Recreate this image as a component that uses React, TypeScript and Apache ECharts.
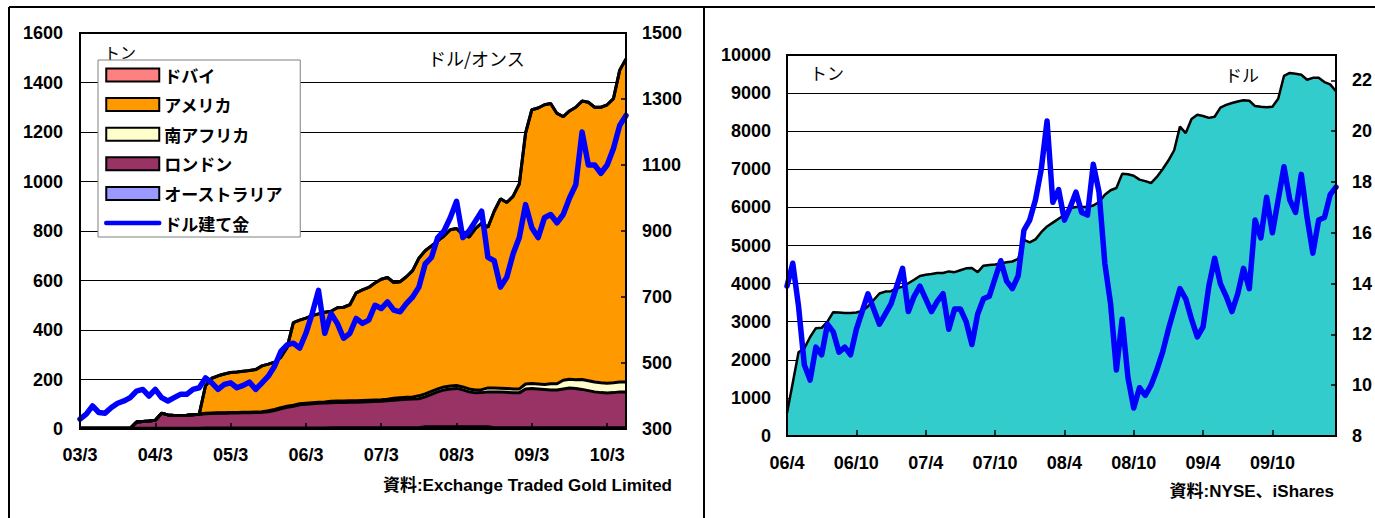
import React, { useEffect, useRef } from "react";
import * as echarts from "echarts";

// ---------- Left chart: gold ETF holdings (t) by exchange, monthly 2003/3 - 2010/6 ----------
const goldMonths: string[] = (() => {
  const out: string[] = [];
  let y = 2003, m = 3;
  for (let i = 0; i < 88; i++) {
    out.push(`${String(y % 100).padStart(2, "0")}/${m}`);
    m++;
    if (m > 12) { m = 1; y++; }
  }
  return out;
})();

const australia = [
  3, 3, 3, 3, 3, 3, 3, 3, 3, 3, 3, 3, 3, 3, 3, 3, 3, 3, 3, 3,
  4, 4, 4, 4, 4, 4, 4, 4, 4, 4, 4, 4, 4, 4, 4, 4, 4, 4, 4, 4,
  5, 5, 5, 5, 5, 5, 5, 5, 5, 5, 5, 5, 5, 5, 5,
  9, 9, 9, 9, 9, 9, 9, 9, 9, 9, 9,
  5, 5, 5, 5, 5, 5, 5, 5, 5, 5, 5, 5, 5, 5, 5, 5, 5, 5, 5, 5, 5, 5,
];
const london = [
  0, 0, 0, 0, 0, 0, 0, 0, 0,
  25, 27, 29, 32, 61, 54, 52, 52, 53, 55, 57,
  58, 59, 60, 60, 61, 61, 62, 62, 63, 64,
  66, 71, 78, 84, 88, 94, 96, 98, 100, 101,
  101, 102, 102, 103, 103, 104, 105, 106, 107, 109,
  111, 113, 115, 116, 117, 121, 131, 141, 149, 153,
  155, 149, 141, 137, 138, 141, 145, 144, 143, 141,
  141, 157, 159, 157, 155, 153, 153, 157, 161, 159,
  155, 150, 145, 142, 140, 142, 145, 145,
];
const southAfrica = [
  0, 0, 0, 0, 0, 0, 0, 0, 0, 0, 0, 0, 0, 0, 0, 0, 0, 0, 0, 0,
  2, 2, 2, 2, 2, 2, 2, 2, 2, 2,
  4, 4, 4, 4, 4, 4, 4, 4, 4, 4,
  6, 6, 6, 6, 6, 6, 6, 6, 6, 6,
  8, 8, 8, 8,
  12, 12, 12, 12, 12, 12, 12, 12, 12, 12, 12,
  16, 16, 16, 16, 16, 16,
  20, 20, 20, 20,
  25, 25,
  35, 35, 35,
  40, 40, 40, 40, 40, 40, 40, 40,
];
const america = [
  0, 0, 0, 0, 0, 0, 0, 0, 0, 0, 0, 0, 0, 0, 0, 0, 0, 0, 0, 0,
  111, 140, 149, 156, 161, 163, 165, 168, 171, 185,
  188, 191, 204, 238, 334, 338, 344, 352, 357, 363,
  364, 377, 379, 388, 436, 447, 456, 473, 487, 492,
  468, 469, 487, 511, 556, 578, 588, 598, 610, 631,
  634, 615, 613, 652, 673, 649, 714, 765, 751, 778,
  828, 1014, 1106, 1115, 1130, 1132, 1092, 1065, 1084, 1101,
  1125, 1125, 1110, 1113, 1125, 1148, 1260, 1305,
];
const dubai = [
  0, 0, 0, 0, 0, 0, 0, 0, 0, 0, 0, 0, 0, 0, 0, 0, 0, 0, 0, 0,
  0, 0, 0, 0, 0, 0, 0, 0, 0, 0, 0, 0, 0, 0, 0, 0, 0, 0, 0, 0,
  0, 0, 0, 0, 0, 0, 0, 0, 0, 0, 0, 0, 0, 0, 0, 0, 0, 0, 0, 0,
  0, 0, 0, 0, 0, 0, 0, 0, 0, 0, 0, 0, 0, 0, 0, 0, 0, 0, 0, 0,
  0, 0, 0, 0, 0, 0, 0, 0,
];
const goldPrice = [
  330, 345, 370, 350, 348, 365, 378, 385, 395, 415,
  420, 400, 420, 395, 385, 395, 405, 405, 420, 425,
  455, 440, 420, 435, 440, 425, 432, 442, 420, 440,
  460, 490, 535, 555, 560, 545, 590, 650, 720, 590,
  650, 620, 575, 590, 635, 620, 630, 675, 665, 685,
  660, 655, 680, 700, 730, 800, 820, 880, 900, 940,
  990, 880, 900, 930, 960, 820, 810, 730, 760, 830,
  880, 980, 910, 880, 940, 950, 925, 950, 1000, 1040,
  1200, 1100, 1100, 1075, 1100, 1150, 1220, 1250,
];

// ---------- Right chart: silver ETF (SLV) holdings (t) and silver price ($), half-monthly 2006/4 - 2010/3 ----------
const silverDates: string[] = (() => {
  const out: string[] = [];
  let y = 2006, m = 4;
  for (let i = 0; i < 48; i++) {
    out.push(`${y}-${m}-1`, `${y}-${m}-16`);
    m++;
    if (m > 12) { m = 1; y++; }
  }
  return out;
})();
const silverHold = [
  600, 1400, 2200, 2300, 2600, 2830, 2840, 3000, 3250, 3240,
  3230, 3230, 3240, 3280, 3400, 3570, 3740, 3790, 3800, 3880,
  3920, 4010, 4100, 4200, 4230, 4250, 4280, 4280, 4320, 4300,
  4350, 4400, 4410, 4300, 4470, 4490, 4500, 4530, 4560, 4580,
  4650, 5150, 5080, 5160, 5350, 5500, 5600, 5700, 5800, 5980,
  6010, 6010, 6010, 6050, 6140, 6330, 6450, 6510, 6880, 6870,
  6830, 6730, 6690, 6640, 6800, 7000, 7230, 7500, 8120, 7950,
  8320, 8430, 8400, 8350, 8380, 8620, 8690, 8740, 8780, 8810,
  8800, 8660, 8640, 8630, 8640, 8850, 9450, 9530, 9510, 9480,
  9350, 9400, 9400, 9290, 9230, 9050,
];
const silverPrice = [
  13.9, 14.8, 13.1, 10.8, 10.2, 11.5, 11.2, 12.4, 12.1, 11.3,
  11.5, 11.2, 12.2, 12.9, 13.6, 13.0, 12.4, 12.8, 13.2, 13.9,
  14.6, 12.9, 13.5, 13.9, 13.4, 12.9, 13.3, 13.6, 12.2, 13.0,
  13.0, 12.5, 11.6, 12.8, 13.4, 13.5, 14.2, 14.9, 14.1, 13.8,
  14.3, 16.1, 16.5, 17.3, 18.5, 20.4, 17.2, 17.7, 16.5, 17.0,
  17.6, 16.8, 16.7, 18.7, 17.6, 14.8, 13.2, 10.6, 12.6, 10.3,
  9.1, 9.9, 9.6, 10.0, 10.6, 11.3, 12.2, 13.0, 13.8, 13.4,
  12.6, 11.9, 12.3, 13.9, 15.0, 14.0, 13.5, 12.9, 13.6, 14.6,
  13.8, 16.5, 15.8, 17.4, 16.0, 17.3, 18.6, 17.3, 16.8, 18.3,
  16.6, 15.2, 16.5, 16.6, 17.5, 17.8,
];

const NUM_FONT = "'Liberation Sans', 'Noto Sans CJK JP', sans-serif";
const JP_FONT = "'Noto Sans CJK JP', 'Liberation Sans', sans-serif";

const axisLabelStyle = {
  color: "#000",
  fontSize: 18,
  fontWeight: "bold" as const,
  fontFamily: NUM_FONT,
};
const plainNumber = (v: number) => String(v);

function silverLabel(v: string) {
  const [y, m, d] = v.split("-");
  if (d !== "1") return "";
  return `${y.slice(2)}/${m}`;
}

export default function App() {
  const ref = useRef<HTMLDivElement>(null);
  useEffect(() => {
    if (!ref.current) return;
    const chart = echarts.init(ref.current, undefined, { renderer: "svg" });
    const areaSeries = (name: string, data: number[], color: string) => ({
      name,
      type: "line",
      stack: "etf",
      xAxisIndex: 0,
      yAxisIndex: 0,
      data,
      symbol: "none",
      lineStyle: { color: "#000", width: 3 },
      itemStyle: { color },
      areaStyle: { color, opacity: 1 },
      z: 2,
    });
    const legendArea = (name: string, color: string) => ({
      name,
      icon: "rect",
      itemStyle: { color, borderColor: "#000", borderWidth: 2 },
    });
    chart.setOption({
      animation: false,
      grid: [
        { left: 80, top: 33, width: 546, height: 396 },
        { left: 787, top: 55, width: 549, height: 381 },
      ],
      legend: {
        left: 98,
        top: 60,
        orient: "vertical",
        backgroundColor: "#fff",
        borderColor: "#808080",
        borderWidth: 1,
        borderRadius: 0,
        padding: [5, 17, 4, 6],
        itemWidth: 53,
        itemHeight: 13,
        itemGap: 9.6,
        selectedMode: false,
        textStyle: { fontSize: 17, fontWeight: "bold", color: "#000", fontFamily: JP_FONT, lineHeight: 20 },
        data: [
          legendArea("ドバイ", "#FF8080"),
          legendArea("アメリカ", "#FF9900"),
          legendArea("南アフリカ", "#FFFFCC"),
          legendArea("ロンドン", "#993366"),
          legendArea("オーストラリア", "#9999FF"),
          {
            name: "ドル建て金",
            lineStyle: { color: "#0000FF", width: 4.5, cap: "round" },
            itemStyle: { opacity: 0, borderWidth: 0 },
          },
        ],
      },
      xAxis: [
        {
          type: "category",
          gridIndex: 0,
          data: goldMonths,
          boundaryGap: false,
          z: 5,
          axisLine: { show: false },
          axisTick: { show: true, inside: true, length: 6, interval: 11, lineStyle: { color: "#000", width: 1.5 } },
          axisLabel: { ...axisLabelStyle, interval: 11, margin: 17 },
          splitLine: { show: false },
        },
        {
          type: "category",
          gridIndex: 1,
          data: silverDates,
          boundaryGap: false,
          z: 5,
          axisLine: { show: false },
          axisTick: { show: true, inside: true, length: 6, interval: 11, lineStyle: { color: "#000", width: 1.5 } },
          axisLabel: { ...axisLabelStyle, interval: 11, margin: 18, formatter: silverLabel },
          splitLine: { show: false },
        },
      ],
      yAxis: [
        {
          type: "value",
          gridIndex: 0,
          min: 0,
          max: 1600,
          interval: 200,
          axisLine: { show: false },
          axisTick: { show: false },
          axisLabel: { ...axisLabelStyle, margin: 17, formatter: plainNumber },
          splitLine: { show: true, lineStyle: { color: "#000", width: 1 } },
        },
        {
          type: "value",
          gridIndex: 0,
          position: "right",
          min: 300,
          max: 1500,
          interval: 200,
          z: 5,
          axisLine: { show: false },
          axisTick: { show: true, inside: true, length: 5, lineStyle: { color: "#000", width: 1.5 } },
          axisLabel: { ...axisLabelStyle, margin: 16, formatter: plainNumber },
          splitLine: { show: false },
        },
        {
          type: "value",
          gridIndex: 1,
          min: 0,
          max: 10000,
          interval: 1000,
          axisLine: { show: false },
          axisTick: { show: false },
          axisLabel: { ...axisLabelStyle, margin: 16, formatter: plainNumber },
          splitLine: { show: true, lineStyle: { color: "#000", width: 1 } },
        },
        {
          type: "value",
          gridIndex: 1,
          position: "right",
          min: 8,
          max: 23,
          interval: 2,
          z: 5,
          axisLine: { show: false },
          axisTick: { show: true, inside: true, length: 5, lineStyle: { color: "#000", width: 1.5 } },
          axisLabel: { ...axisLabelStyle, margin: 16, showMaxLabel: false, formatter: plainNumber },
          splitLine: { show: false },
        },
      ],
      series: [
        areaSeries("オーストラリア", australia, "#9999FF"),
        areaSeries("ロンドン", london, "#993366"),
        areaSeries("南アフリカ", southAfrica, "#FFFFCC"),
        areaSeries("アメリカ", america, "#FF9900"),
        areaSeries("ドバイ", dubai, "#FF8080"),
        {
          name: "ドル建て金",
          type: "line",
          xAxisIndex: 0,
          yAxisIndex: 1,
          data: goldPrice,
          symbol: "none",
          lineStyle: { color: "#0000FF", width: 5.5, join: "round", cap: "round" },
          itemStyle: { color: "#0000FF" },
          z: 3,
        },
        {
          name: "SLV保有量",
          type: "line",
          xAxisIndex: 1,
          yAxisIndex: 2,
          data: silverHold,
          symbol: "none",
          lineStyle: { color: "#000", width: 2.5 },
          itemStyle: { color: "#33CCCC" },
          areaStyle: { color: "#33CCCC", opacity: 1 },
          z: 2,
        },
        {
          name: "銀価格",
          type: "line",
          xAxisIndex: 1,
          yAxisIndex: 3,
          data: silverPrice,
          symbol: "none",
          lineStyle: { color: "#0000FF", width: 5.5, join: "round", cap: "round" },
          itemStyle: { color: "#0000FF" },
          z: 3,
        },
      ],
      graphic: [
        { type: "line", shape: { x1: 9, y1: 7, x2: 1375, y2: 7 }, style: { stroke: "#000", lineWidth: 2 }, z: 60 },
        { type: "line", shape: { x1: 9, y1: 7, x2: 9, y2: 518 }, style: { stroke: "#000", lineWidth: 2 }, z: 60 },
        { type: "line", shape: { x1: 704, y1: 7, x2: 704, y2: 518 }, style: { stroke: "#000", lineWidth: 2 }, z: 60 },
        { type: "rect", shape: { x: 80, y: 33, width: 546, height: 396 }, style: { fill: "none", stroke: "#000", lineWidth: 2 }, z: 50 },
        { type: "rect", shape: { x: 787, y: 55, width: 549, height: 381 }, style: { fill: "none", stroke: "#000", lineWidth: 2 }, z: 50 },
        { type: "text", x: 104, y: 44, z: 1, style: { text: "トン", fontSize: 16, fill: "#000", fontFamily: JP_FONT } },
        { type: "text", x: 428, y: 49, z: 1, style: { text: "ドル/オンス", fontSize: 18, fill: "#000", fontFamily: JP_FONT } },
        { type: "text", x: 810, y: 64, z: 1, style: { text: "トン", fontSize: 17, fill: "#000", fontFamily: JP_FONT } },
        { type: "text", x: 1225, y: 66, z: 1, style: { text: "ドル", fontSize: 17, fill: "#000", fontFamily: JP_FONT } },
        {
          type: "text", x: 672, y: 485, z: 1,
          style: { text: "資料:Exchange Traded Gold Limited", fontSize: 17, fontWeight: "bold", fill: "#000", fontFamily: NUM_FONT, align: "right", verticalAlign: "middle" },
        },
        {
          type: "text", x: 1334, y: 491, z: 1,
          style: { text: "資料:NYSE、iShares", fontSize: 17, fontWeight: "bold", fill: "#000", fontFamily: NUM_FONT, align: "right", verticalAlign: "middle" },
        },
      ],
    });
    return () => chart.dispose();
  }, []);
  return <div ref={ref} style={{ position: "fixed", left: 0, top: 0, width: 1375, height: 518, background: "#fff" }} />;
}
